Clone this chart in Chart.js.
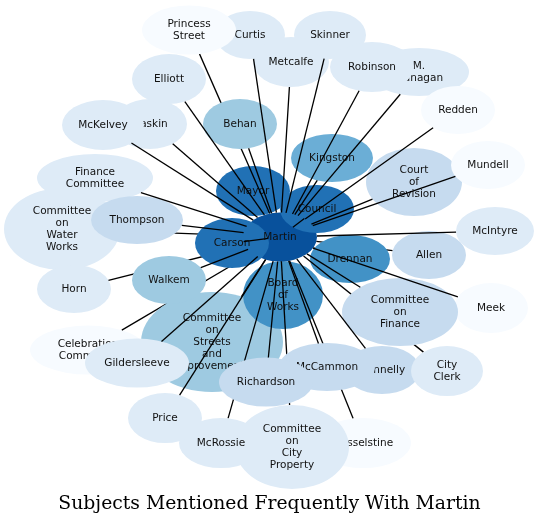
<!DOCTYPE html>
<html>
<head>
<meta charset="utf-8">
<script src="https://cdn.jsdelivr.net/npm/chart.js@4.4.1/dist/chart.umd.min.js"></script>
<style>
  html, body { margin: 0; padding: 0; background: #fff; }
  canvas { display: block; }
</style>
</head>
<body>
<canvas id="net" width="539" height="525"></canvas>
<script>
/* subjects co-mentioned with Martin: layout position, node size and mention level (0..7) */
const nodeLabels = [
  "Martin", "Mayor", "Council", "Carson", "Board\nof\nWorks", "Drennan", "Kingston",
  "Behan", "Walkem", "Committee\non\nStreets\nand\nImprovements",
  "Thompson", "Court\nof\nRevision", "Allen", "Committee\non\nFinance", "Richardson", "McCammon", "Donnelly",
  "Elliott", "Haskin", "McKelvey", "Finance\nCommittee", "Committee\non\nWater\nWorks", "Horn",
  "Curtis", "Metcalfe", "Skinner", "Robinson", "M.\nFlanagan", "Gildersleeve", "Price", "McRossie",
  "Committee\non\nCity\nProperty", "City\nClerk", "McIntyre",
  "Princess\nStreet", "Redden", "Mundell", "Meek", "Celebration\nCommittee", "Hesselstine"
];
const nodeX  = [280, 253, 317, 232, 283, 350, 332, 240, 169, 212, 137, 414, 429, 400, 266, 327, 382,
                169, 150, 103, 95, 62, 74, 250, 291, 330, 372, 419, 137, 165, 221, 292, 447, 495,
                189, 458, 488, 491, 88, 363];
const nodeY  = [237, 191, 209, 243, 295, 259, 158, 124, 280, 342, 220, 182, 255, 312, 382, 367, 370,
                79, 124, 125, 178, 229, 289, 35, 62, 35, 67, 72, 363, 418, 443, 447, 371, 231,
                30, 110, 165, 308, 350, 443];
const nodeRx = [37, 37, 37, 37, 40, 40, 41, 37, 37, 71, 46, 48, 37, 58, 47, 48, 38,
                37, 37, 41, 58, 58, 37, 35, 38, 36, 42, 50, 52, 37, 42, 57, 36, 39,
                47, 37, 37, 37, 58, 48];
const nodeRy = [24.5, 25, 24, 25, 34, 24, 24, 25, 24, 50, 24, 34, 24, 34, 24.5, 24, 24,
                25, 25, 25, 24, 41, 24, 24, 25, 24, 25, 24, 24.5, 25, 25, 42, 25, 24,
                24.5, 24, 24, 25, 24.5, 25];
const mentionLevel = [7, 6, 6, 6, 5, 5, 4, 3, 3, 3, 2, 2, 2, 2, 2, 2, 2,
                      1, 1, 1, 1, 1, 1, 1, 1, 1, 1, 1, 1, 1, 1, 1, 1, 1,
                      0, 0, 0, 0, 0, 0];

const blues = ["#f7fbff", "#deebf7", "#c6dbef", "#9ecae1", "#6baed6", "#4292c6", "#2171b5", "#08519c"];
const hub = 0;

const idx = name => nodeLabels.findIndex(l => l.replace(/\n/g, " ").startsWith(name));

// painting order (later covers earlier); "E" = edge to Martin, "N" = node
const paintOrder = [
  "N Committee on Water", "N Finance Committee", "E Committee on Water", "N Thompson",
  "N Horn", "E Horn", "N Celebration", "E Celebration",
  "N Committee on Streets", "N Walkem", "N Gildersleeve",
  "N Board", "N Martin", "N Carson", "N Mayor", "N Council", "N Kingston", "N Court",
  "E Allen", "N Allen", "N Drennan",
  "E Princess", "N Curtis", "N Princess", "N Behan",
  "N Skinner", "N Metcalfe", "N M.", "N Robinson", "N Haskin", "N McKelvey", "N Elliott",
  "N Redden", "N Mundell", "N McIntyre", "N Meek",
  "E City Clerk", "E Hesselstine", "E McRossie", "E Committee on City",
  "N Hesselstine", "N Committee on City", "N McRossie", "N Price",
  "N Donnelly", "N City Clerk", "N McCammon", "N Richardson", "N Committee on Finance"
];

const networkPlugin = {
  id: "network",
  afterDatasetsDraw(chart) {
    const ctx = chart.ctx;
    const xs = chart.scales.x, ys = chart.scales.y;
    const pts = chart.getDatasetMeta(0).data;
    const geo = i => ({
      x: pts[i].x, y: pts[i].y,
      rx: Math.abs(xs.getPixelForValue(nodeX[i] + nodeRx[i]) - pts[i].x),
      ry: Math.abs(ys.getPixelForValue(nodeY[i] + nodeRy[i]) - pts[i].y)
    });
    const label = i => {
      const g = geo(i);
      const lines = nodeLabels[i].split("\n");
      ctx.fillStyle = "#111";
      ctx.font = "10.5px 'DejaVu Sans'";
      ctx.textAlign = "center";
      ctx.textBaseline = "middle";
      lines.forEach((t, k) => ctx.fillText(t, g.x, g.y + (k - (lines.length - 1) / 2) * 12));
    };
    const node = i => {
      const g = geo(i);
      ctx.beginPath();
      ctx.ellipse(g.x, g.y, g.rx, g.ry, 0, 0, Math.PI * 2);
      ctx.fillStyle = blues[mentionLevel[i]];
      ctx.fill();
      if (i !== hub) label(i);
    };
    const edge = i => {
      const a = geo(hub), b = geo(i);
      const dx = b.x - a.x, dy = b.y - a.y;
      const ta = 1 / Math.hypot(dx / a.rx, dy / a.ry);
      const tb = 1 / Math.hypot(dx / b.rx, dy / b.ry);
      ctx.beginPath();
      ctx.moveTo(a.x + dx * ta, a.y + dy * ta);
      ctx.lineTo(b.x - dx * tb, b.y - dy * tb);
      ctx.strokeStyle = "#000";
      ctx.lineWidth = 1.3;
      ctx.stroke();
    };

    ctx.save();
    const drawnEdges = new Set();
    paintOrder.forEach(step => {
      const i = idx(step.slice(2));
      if (step[0] === "N") node(i);
      else { edge(i); drawnEdges.add(i); }
    });
    nodeLabels.forEach((_, i) => { if (i !== hub && !drawnEdges.has(i)) edge(i); });
    label(hub);
    ctx.restore();
  }
};

new Chart(document.getElementById("net"), {
  type: "scatter",
  data: {
    datasets: [{
      data: nodeLabels.map((_, i) => ({ x: nodeX[i], y: nodeY[i] })),
      pointRadius: 0,
      pointHoverRadius: 0
    }]
  },
  options: {
    responsive: false,
    animation: false,
    events: [],
    layout: { padding: 0 },
    plugins: {
      legend: { display: false },
      tooltip: { enabled: false },
      title: {
        display: true,
        position: "bottom",
        text: "Subjects Mentioned Frequently With Martin",
        color: "#000",
        font: { family: "'DejaVu Serif'", size: 18.8, weight: "normal" },
        padding: { top: 7.5, bottom: 10 }
      }
    },
    scales: {
      x: { type: "linear", display: false, min: 0, max: 539 },
      y: { type: "linear", display: false, min: 0, max: 484.9, reverse: true }
    }
  },
  plugins: [networkPlugin]
});
</script>
</body>
</html>
